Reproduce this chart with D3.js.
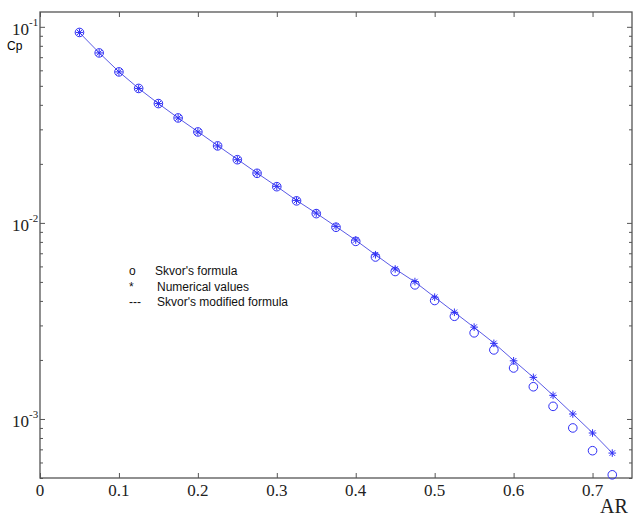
<!DOCTYPE html>
<html>
<head>
<meta charset="utf-8">
<script src="https://cdn.jsdelivr.net/npm/d3@7"></script>
<style>
  body { margin: 0; background: #fff; }
  svg { display: block; }
  .frame { fill: none; stroke: #555; stroke-width: 1.3; }
  .tick line { stroke: #555; }
  .domain { display: none; }
  .ticklabel { font-family: "Liberation Serif", "DejaVu Serif", serif; fill: #222; }
  .legend text { font-family: "Liberation Sans", Arial, sans-serif; font-size: 12px; fill: #111; }
</style>
</head>
<body>
<div id="chart"></div>
<script>

WIDTH = 633;
HEIGHT = 523;

var margin = { top: 12, right: 1, bottom: 45, left: 40 };

// aspect ratio values (x)
var ar = [0.05, 0.075, 0.1, 0.125, 0.15, 0.175, 0.2, 0.225, 0.25, 0.275,
          0.3, 0.325, 0.35, 0.375, 0.4, 0.425, 0.45, 0.475, 0.5, 0.525,
          0.55, 0.575, 0.6, 0.625, 0.65, 0.675, 0.7, 0.725];

// Skvor's formula (circles)
var skvor = [0.0936, 0.0736, 0.0589, 0.0485, 0.0406, 0.0343, 0.0291, 0.0247, 0.0210, 0.0179,
             0.0153, 0.01295, 0.01115, 0.0095, 0.00805, 0.0067, 0.00565, 0.00483, 0.00402, 0.00334,
             0.00275, 0.00225, 0.00182, 0.00146, 0.00116, 0.0009, 0.000689, 0.000519];

// numerical values (stars)
var numerical = [0.0936, 0.0736, 0.0589, 0.0485, 0.0406, 0.0343, 0.0291, 0.0247, 0.0210, 0.01796,
                 0.01536, 0.01302, 0.01122, 0.0096, 0.00818, 0.00688, 0.00582, 0.00502, 0.00418, 0.0035,
                 0.00294, 0.00243, 0.00198, 0.00163, 0.00132, 0.00106, 0.000848, 0.00067];

// Skvor's modified formula (line)
var modified = [0.0934, 0.0737, 0.0590, 0.0485, 0.0406, 0.0343, 0.0292, 0.0248, 0.0211, 0.01795,
                0.01534, 0.01302, 0.01120, 0.00958, 0.00816, 0.00688, 0.00582, 0.00500, 0.00418, 0.00350,
                0.00293, 0.00244, 0.00199, 0.00163, 0.00132, 0.00106, 0.000850, 0.000670];

var xTicks = [0, 0.1, 0.2, 0.3, 0.4, 0.5, 0.6, 0.7];
var xTickLabels = ["0", "0.1", "0.2", "0.3", "0.4", "0.5", "0.6", "0.7"];
var yMajor = [1e-3, 1e-2, 1e-1];
var yMajorExp = ["-3", "-2", "-1"];

var legendSymbols = ["o", "*", "---"];
var legendLabels = ["Skvor's formula", "Numerical values", "Skvor's modified formula"];

var BLUE = "#2f2ff5";
var LINE_BLUE = "#5a5ae6";

var svg = d3.select("#chart").append("svg")
    .attr("width", WIDTH)
    .attr("height", HEIGHT);

var x = d3.scaleLinear()
    .domain([0, 0.75])
    .range([margin.left, WIDTH - margin.right]);

var y = d3.scaleLog()
    .domain([5e-4, 0.119])
    .range([HEIGHT - margin.bottom, margin.top]);

var yMinor = y.ticks().filter(function (v) {
    return yMajor.every(function (m) { return Math.abs(v - m) / m > 1e-6; });
});

// ticks, all pointing inward
svg.append("g")
    .attr("transform", "translate(0," + (HEIGHT - margin.bottom) + ")")
    .call(d3.axisBottom(x).tickValues(xTicks).tickSize(-5).tickFormat(""));
svg.append("g")
    .attr("transform", "translate(0," + margin.top + ")")
    .call(d3.axisTop(x).tickValues(xTicks).tickSize(-5).tickFormat(""));
svg.append("g")
    .attr("transform", "translate(" + margin.left + ",0)")
    .call(d3.axisLeft(y).tickValues(yMajor).tickSize(-5).tickFormat(""));
svg.append("g")
    .attr("transform", "translate(" + margin.left + ",0)")
    .call(d3.axisLeft(y).tickValues(yMinor).tickSize(-3).tickFormat(""));
svg.append("g")
    .attr("transform", "translate(" + (WIDTH - margin.right) + ",0)")
    .call(d3.axisRight(y).tickValues(yMajor).tickSize(-5).tickFormat(""));
svg.append("g")
    .attr("transform", "translate(" + (WIDTH - margin.right) + ",0)")
    .call(d3.axisRight(y).tickValues(yMinor).tickSize(-3).tickFormat(""));

svg.append("rect")
    .attr("class", "frame")
    .attr("x", margin.left)
    .attr("y", margin.top)
    .attr("width", WIDTH - margin.left - margin.right)
    .attr("height", HEIGHT - margin.top - margin.bottom);

// x tick labels
svg.append("g").selectAll("text")
    .data(xTicks).enter()
    .append("text")
    .attr("class", "ticklabel")
    .attr("x", function (d) { return x(d); })
    .attr("y", HEIGHT - margin.bottom + 18)
    .attr("text-anchor", "middle")
    .style("font-size", "17px")
    .text(function (d, i) { return xTickLabels[i]; });

// y tick labels 10^k
var ylab = svg.append("g").selectAll("text")
    .data(yMajor).enter()
    .append("text")
    .attr("class", "ticklabel")
    .attr("x", 12)
    .attr("y", function (d) { return y(d) + 8; })
    .style("font-size", "17px");
ylab.append("tspan").text("10");
ylab.append("tspan")
    .attr("dy", -8.5)
    .style("font-size", "11px")
    .text(function (d, i) { return yMajorExp[i]; });

svg.append("text")
    .attr("x", 7)
    .attr("y", 50)
    .style("font-family", "Liberation Sans, Arial, sans-serif")
    .style("font-size", "12px")
    .text("Cp");

svg.append("text")
    .attr("class", "ticklabel")
    .attr("x", 600)
    .attr("y", 513)
    .style("font-size", "20px")
    .text("AR");

// modified formula line
var line = d3.line()
    .x(function (d, i) { return x(ar[i]); })
    .y(function (d) { return y(d); });

svg.append("path")
    .datum(modified)
    .attr("d", line)
    .attr("fill", "none")
    .attr("stroke", LINE_BLUE)
    .attr("stroke-width", 1);

// Skvor's formula circles
svg.append("g").selectAll("circle")
    .data(skvor).enter()
    .append("circle")
    .attr("cx", function (d, i) { return x(ar[i]); })
    .attr("cy", function (d) { return y(d); })
    .attr("r", 4.3)
    .attr("fill", "none")
    .attr("stroke", BLUE)
    .attr("stroke-width", 1);

// numerical values stars (+ and x)
function starPath(r) {
    var q = r * 0.72;
    return "M" + (-r) + ",0L" + r + ",0M0," + (-r) + "L0," + r +
           "M" + (-q) + "," + (-q) + "L" + q + "," + q +
           "M" + (-q) + "," + q + "L" + q + "," + (-q);
}

svg.append("g").selectAll("path")
    .data(numerical).enter()
    .append("path")
    .attr("transform", function (d, i) { return "translate(" + x(ar[i]) + "," + y(d) + ")"; })
    .attr("d", starPath(3.8))
    .attr("fill", "none")
    .attr("stroke", BLUE)
    .attr("stroke-width", 1);

// legend
var legend = svg.append("g").attr("class", "legend");
legend.selectAll("text.sym")
    .data(legendSymbols).enter()
    .append("text")
    .attr("class", "sym")
    .attr("x", 129)
    .attr("y", function (d, i) { return 275 + i * 15.5; })
    .text(function (d) { return d; });
legend.selectAll("text.lab")
    .data(legendLabels).enter()
    .append("text")
    .attr("class", "lab")
    .attr("x", function (d, i) { return i == 0 ? 155 : 157; })
    .attr("y", function (d, i) { return 275 + i * 15.5; })
    .text(function (d) { return d; });

</script>
</body>
</html>
